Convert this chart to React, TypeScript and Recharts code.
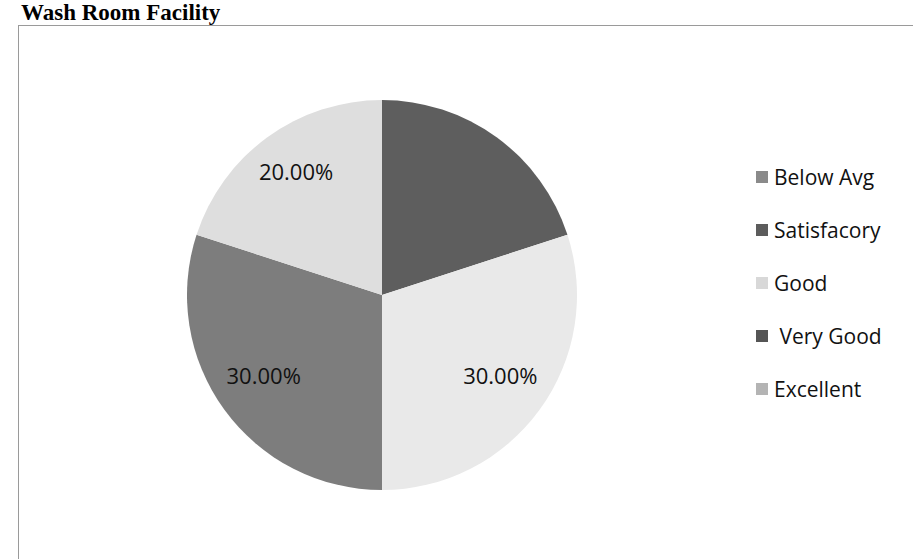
import React from 'react';
import { PieChart, Pie, Cell, Legend } from 'recharts';

const categories = ['Below Avg', 'Satisfacory', 'Good', ' Very Good', 'Excellent'];
const shares = [0, 20, 30, 30, 20];

const sliceColors = ['#8c8c8c', '#5e5e5e', '#e9e9e9', '#7d7d7d', '#dedede'];
const legendColors = ['#8a8a8a', '#5c5c5c', '#d8d8d8', '#555555', '#b4b4b4'];
const labelColors = ['#111', '#5e5e5e', '#111', '#111', '#111'];

const data = categories.map((name, i) => ({ name, value: shares[i] }));

const RADIAN = Math.PI / 180;

const renderLabel = (props: any) => {
  const { cx, cy, midAngle, outerRadius, value, index } = props;
  if (!value) return null;
  const r = outerRadius * 0.75;
  const x = cx + r * Math.cos(-midAngle * RADIAN);
  const y = cy + r * Math.sin(-midAngle * RADIAN) - 6;
  return (
    <text
      x={x}
      y={y}
      fill={labelColors[index]}
      textAnchor="middle"
      dominantBaseline="central"
      fontSize={22}
      fontFamily="'Open Sans', sans-serif"
    >
      {value.toFixed(2)}%
    </text>
  );
};

const renderLegend = () => (
  <div style={{ fontFamily: "'Open Sans', sans-serif", fontSize: 21, color: '#111' }}>
    {categories.map((name, i) => (
      <div key={i} style={{ display: 'flex', alignItems: 'center', height: 53, whiteSpace: 'pre' }}>
        <span
          style={{
            display: 'inline-block',
            width: 12,
            height: 12,
            background: legendColors[i],
            marginRight: 6,
          }}
        />
        {name}
      </div>
    ))}
  </div>
);

export default function App() {
  return (
    <div style={{ position: 'absolute', left: 0, top: 0, width: 913, height: 559, background: '#fff', overflow: 'hidden' }}>
      <div
        style={{
          position: 'absolute',
          left: 21,
          top: 1,
          lineHeight: '23px',
          fontFamily: "'Liberation Serif', serif",
          fontWeight: 'bold',
          fontSize: 23,
          color: '#000',
        }}
      >
        Wash Room Facility
      </div>
      <div
        style={{
          position: 'absolute',
          left: 18,
          top: 25,
          width: 920,
          height: 560,
          borderTop: '1px solid #9a9a9a',
          borderLeft: '1px solid #9a9a9a',
        }}
      />
      <PieChart width={913} height={559} style={{ position: 'absolute', left: 0, top: 0 }}>
        <Pie
          data={data}
          dataKey="value"
          nameKey="name"
          cx={377}
          cy={290}
          outerRadius={195}
          startAngle={90}
          endAngle={-270}
          stroke="none"
          label={renderLabel}
          labelLine={false}
          isAnimationActive={false}
        >
          {data.map((d, i) => (
            <Cell key={d.name} fill={sliceColors[i]} />
          ))}
        </Pie>
        <Legend
          content={renderLegend}
          layout="vertical"
          wrapperStyle={{ position: 'absolute', left: 756, top: 150, width: 160 }}
        />
      </PieChart>
    </div>
  );
}
